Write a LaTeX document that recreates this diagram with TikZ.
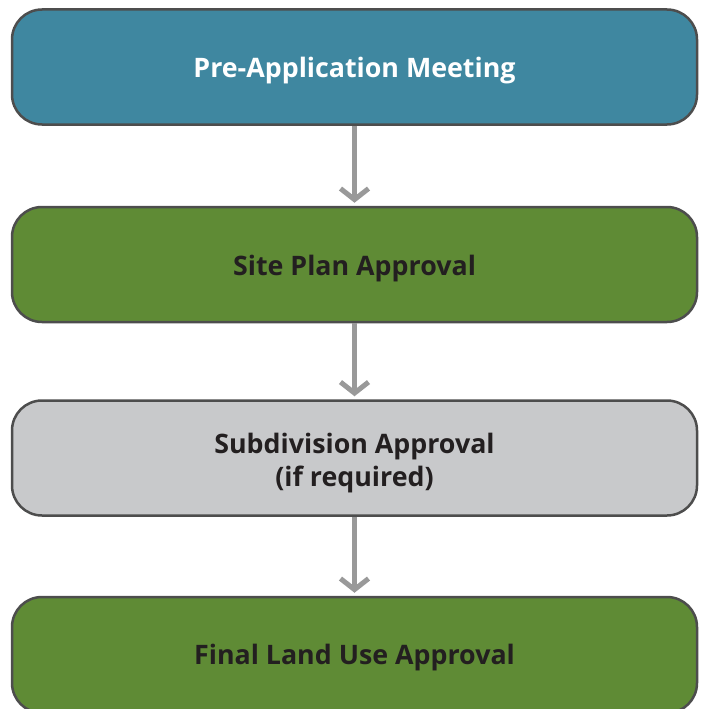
\documentclass[tikz,border=0pt]{standalone}
\usepackage{fontspec}
\setmainfont{Open Sans}
\usetikzlibrary{arrows.meta}
\definecolor{teal1}{HTML}{3F87A0}
\definecolor{green1}{HTML}{5F8B35}
\definecolor{gray1}{HTML}{C8C9CB}
\definecolor{edge1}{HTML}{4D4D4D}
\definecolor{arr1}{HTML}{999999}
\definecolor{txt1}{HTML}{231F20}
\tikzset{
  box/.style={draw=edge1, line width=2.5pt, rounded corners=30pt, minimum width=685pt, minimum height=115pt, inner sep=0pt},
  lbl/.style={align=center, font=\fontsize{26.8}{33}\selectfont\bfseries, inner sep=0pt, text=txt1},
  conn/.style={draw=arr1, line width=5pt, -{Straight Barb[length=11pt,width=28pt,line width=5pt]}, shorten >=3pt}
}
\begin{document}
\begin{tikzpicture}[x=1pt,y=-1pt]
\useasboundingbox (0,0) rectangle (702,709);
\node[box, fill=teal1] (a) at (354.5,67) {};
\node[box, fill=green1] (b) at (354.5,264.5) {};
\node[box, fill=gray1] (c) at (354.5,458) {};
\node[box, fill=green1, minimum height=116pt] (d) at (354.5,655) {};
\node[lbl, text=white] (ta) at ([yshift=-4pt]a.center) {Pre-Application Meeting};
\node[lbl] (tb) at ([yshift=-4pt]b.center) {Site Plan Approval};
\node[lbl] (tc) at ([yshift=-5pt]c.center) {Subdivision Approval\\(if required)};
\node[lbl] (td) at ([yshift=-3pt]d.center) {Final Land Use Approval};
\draw[conn] (a.south) -- (b.north);
\draw[conn] (b.south) -- (c.north);
\draw[conn] (c.south) -- (d.north);
\end{tikzpicture}
\end{document}
